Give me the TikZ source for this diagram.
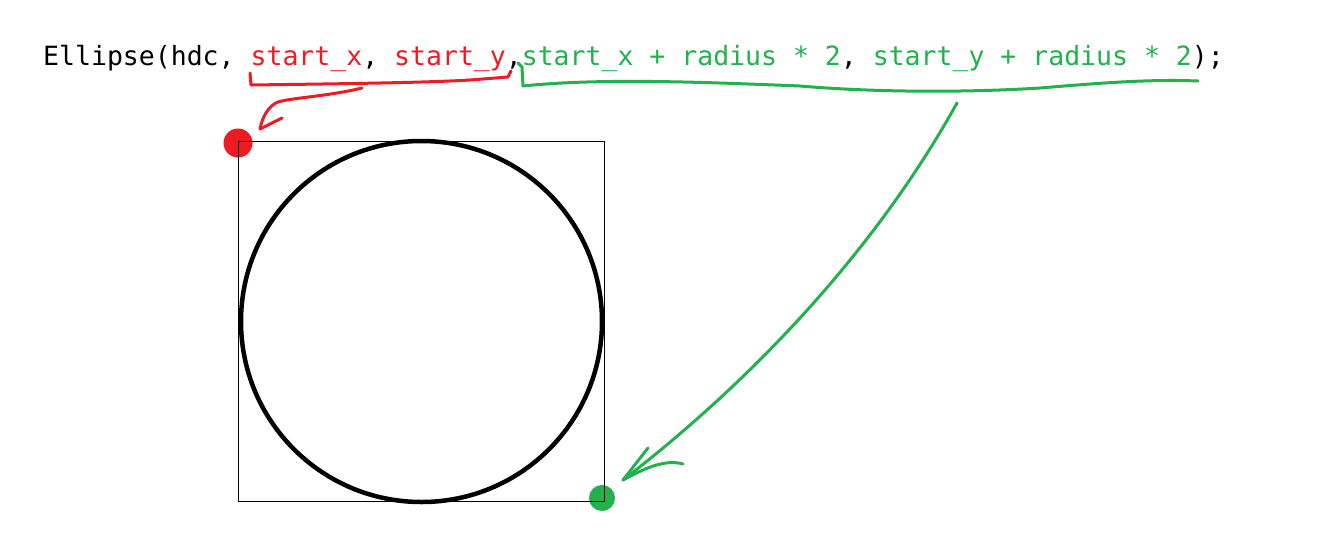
\documentclass[tikz,border=0pt]{standalone}
\usepackage{fontspec}
\setmonofont{DejaVu Sans Mono}
\definecolor{pred}{RGB}{237,28,36}
\definecolor{pgreen}{RGB}{34,177,76}
\begin{document}
\begin{tikzpicture}[x=1pt,y=-1pt,
  pen/.style={line width=3pt,line cap=round,line join=round},
  redpen/.style={pen,draw=pred},
  greenpen/.style={pen,draw=pgreen},
  dot/.style={circle,inner sep=0pt,minimum size=#1}]
\useasboundingbox (0,0) rectangle (1334,550);
\fill[white] (0,0) rectangle (1334,550);
% code line
\node[anchor=base west,inner sep=0pt,font=\ttfamily\fontsize{26.5}{30}\selectfont] (code) at (43,65)
 {Ellipse(hdc, \textcolor{pred}{start\_x}, \textcolor{pred}{start\_y},\textcolor{pgreen}{start\_x + radius * 2}, \textcolor{pgreen}{start\_y + radius * 2});};
% corner dots
\node[dot=29pt,fill=pred] (tl) at (238,143) {};
\node[dot=26pt,fill=pgreen] (br) at (602,498) {};
% square and circle
\draw[line width=1pt] (238,141) rectangle (604,501);
\node[circle,draw,line width=4.5pt,minimum size=361pt,inner sep=0pt] (circ) at (421.5,321.5) {};
% red bracket
\draw[redpen] (250,73) -- (251,85) .. controls (320,84) and (420,83) .. (470,80) -- (508,77) -- (511,71);
% red arrow
\coordinate (rs) at (362,88);
\coordinate (rt) at (260,129);
\draw[redpen] (rs) .. controls (330,96) and (290,98) .. (278,102) .. controls (268,106) and (262,118) .. (rt);
\draw[redpen] (rt) -- (282,118);
% green bracket
\draw[greenpen] (518,63) -- (522,67) -- (523,86) .. controls (600,78) and (700,82) .. (800,86) .. controls (870,92) and (960,93) .. (1040,88) .. controls (1100,83) and (1150,79) .. (1198,81);
% green arrow
\coordinate (gs) at (957,103);
\coordinate (gt) at (623,480);
\draw[greenpen] (gs) .. controls (870,260) and (740,390) .. (gt);
\draw[greenpen] (gt) -- (648,448);
\draw[greenpen] (gt) .. controls (645,468) and (665,459) .. (683,464);
\end{tikzpicture}
\end{document}
